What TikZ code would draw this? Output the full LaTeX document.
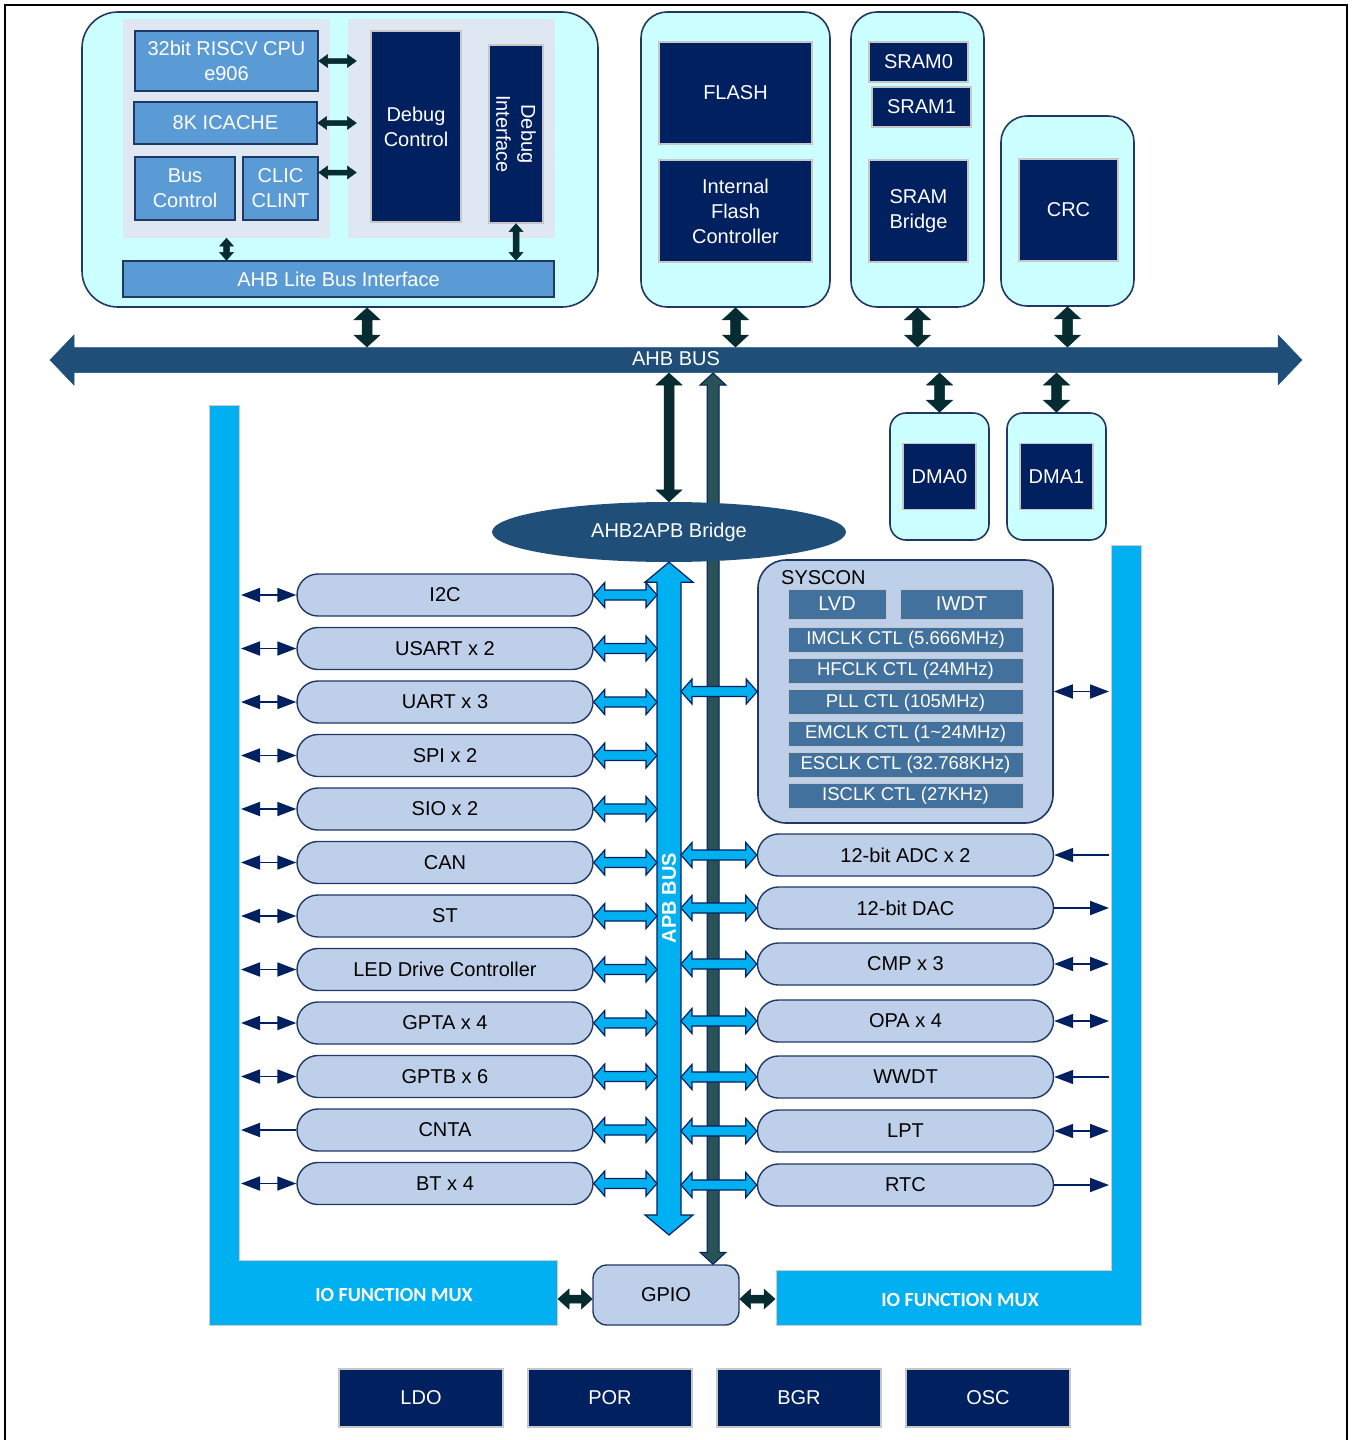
\documentclass[tikz,border=0pt]{standalone}
\usepackage{fontspec}
\setmainfont{Liberation Sans}
\newfontfamily\calibri{Carlito}
\usetikzlibrary{positioning, arrows.meta, calc, shapes.geometric}

\definecolor{navy}{RGB}{0,32,96}
\definecolor{rimblue}{RGB}{31,56,100}
\definecolor{cyanlt}{RGB}{204,255,255}
\definecolor{panelgrey}{RGB}{222,231,242}
\definecolor{cpublue}{RGB}{91,155,213}
\definecolor{busblue}{RGB}{31,78,121}
\definecolor{pillblue}{RGB}{189,207,233}
\definecolor{sysblue}{RGB}{65,113,156}
\definecolor{muxblue}{RGB}{0,176,240}
\definecolor{arrdark}{RGB}{6,44,50}
\definecolor{slate}{RGB}{40,82,86}

% block double arrows: [style]{from}{to}{shaft half width}{head half width}{head length}
\newcommand{\hblock}[6][]{%
  \path[#1] let \p1=#2, \p2=#3 in
    (\x1,\y1) -- (\x1+#6,\y1+#5) -- (\x1+#6,\y1+#4) -- (\x2-#6,\y2+#4)
    -- (\x2-#6,\y2+#5) -- (\x2,\y2) -- (\x2-#6,\y2-#5) -- (\x2-#6,\y2-#4)
    -- (\x1+#6,\y1-#4) -- (\x1+#6,\y1-#5) -- cycle;}
\newcommand{\vblock}[6][]{%
  \path[#1] let \p1=#2, \p2=#3 in
    (\x1,\y1) -- (\x1+#5,\y1-#6) -- (\x1+#4,\y1-#6) -- (\x2+#4,\y2+#6)
    -- (\x2+#5,\y2+#6) -- (\x2,\y2) -- (\x2-#5,\y2+#6) -- (\x2-#4,\y2+#6)
    -- (\x1-#4,\y1-#6) -- (\x1-#5,\y1-#6) -- cycle;}

\begin{document}
\begin{tikzpicture}[x=1pt, y=-1pt, inner sep=0pt,
  font=\fontsize{20}{25}\selectfont,
  modbox/.style={draw=rimblue, line width=1.6pt, fill=cyanlt, rounded corners=26pt},
  panelbox/.style={fill=panelgrey},
  cpubox/.style={draw=rimblue, line width=1.4pt, fill=cpublue, text=white, align=center},
  darkbox/.style={draw=black!22, line width=1.4pt, fill=navy, text=white, align=center},
  pill/.style={draw=rimblue, line width=1.4pt, fill=pillblue, rounded corners=21pt, minimum width=296pt, minimum height=42pt},
  sysbox/.style={draw=black!22, line width=1pt, fill=sysblue, text=white, minimum height=30pt},
  clkrow/.style={sysbox, minimum width=235pt, minimum height=25pt, font=\fontsize{18.5}{22}\selectfont},
  muxbar/.style={fill=muxblue, draw=black!20, line width=1pt},
  muxlabel/.style={text=white, font=\calibri\bfseries\fontsize{20}{24}\selectfont},
  sig/.style={draw=navy, line width=1.8pt, >={Triangle[length=19pt,width=14pt]}},
  darkarr/.style={fill=arrdark, draw=arrdark, line width=0.5pt},
  lbarr/.style={fill=muxblue, draw=navy, line width=1.2pt},
  slatearr/.style={fill=slate, draw=navy, line width=1pt},
  busarr/.style={fill=busblue, draw=busblue, line width=0.5pt}]

\useasboundingbox (0,0) rectangle (1356,1440);
\draw[line width=2.5pt] (5,1440) -- (5,5) -- (1347,5) -- (1347,1440);

% cpu subsystem
\node[modbox, rounded corners=36pt, minimum width=516pt, minimum height=295pt] (cpublk) at (340,159.5) {};
\node[panelbox, minimum width=207pt, minimum height=219pt] (lpanel) at (226.5,128.5) {};
\node[panelbox, minimum width=207pt, minimum height=219pt] (rpanel) at (451.5,128.5) {};
\node[cpubox, minimum width=183pt, minimum height=60pt] (cpu) at (226.5,61) {32bit RISCV CPU\\e906};
\node[cpubox, minimum width=183pt, minimum height=42pt] (icache) at (225.5,123) {8K ICACHE};
\node[cpubox, minimum width=100pt, minimum height=63pt] (busctl) at (185,188.5) {Bus\\Control};
\node[cpubox, minimum width=75pt, minimum height=63pt] (clic) at (280.5,188.5) {CLIC\\CLINT};
\node[darkbox, minimum width=90pt, minimum height=191pt] (dbgctl) at (416,126.5) {Debug\\Control};
\node[darkbox, rotate=-90, minimum width=178pt, minimum height=54pt] (dbgif) at (516,134) {Debug\\Interface};
\node[cpubox, minimum width=431pt, minimum height=36pt] (ahblite) at (338.5,279) {AHB Lite Bus Interface};

\hblock[darkarr]{(cpu.east)}{([xshift=-14pt]dbgctl.west |- cpu.east)}{2.5pt}{6.5pt}{9pt}
\hblock[darkarr]{(icache.east)}{([xshift=-14pt]dbgctl.west |- icache.east)}{2.5pt}{6.5pt}{9pt}
\hblock[darkarr]{([yshift=16pt]clic.east)}{([xshift=-14pt,yshift=16pt]dbgctl.west |- clic.east)}{2.5pt}{6.5pt}{9pt}
\vblock[darkarr]{(lpanel.south)}{(lpanel.south |- ahblite.north)}{3pt}{7pt}{8pt}
% dbgif is turned, its east side is at the bottom
\vblock[darkarr]{(dbgif.east)}{(dbgif.east |- ahblite.north)}{3pt}{7pt}{8pt}

% memories
\node[modbox, minimum width=189pt, minimum height=295pt] (flashblk) at (735.5,159.5) {};
\node[darkbox, minimum width=153pt, minimum height=102pt] (flash) at (735.5,93) {FLASH};
\node[darkbox, minimum width=153pt, minimum height=102pt, below=14.6pt of flash] (ifc) {Internal\\Flash\\Controller};
\node[modbox, minimum width=133pt, minimum height=295pt, right=19.4pt of flashblk] (sramblk) {};
\node[darkbox, minimum width=99pt, minimum height=40pt] (sram0) at (918.5,62) {SRAM0};
\node[darkbox, minimum width=99pt, minimum height=40pt] (sram1) at (921.5,107) {SRAM1};
\node[darkbox, minimum width=99pt, minimum height=102pt] (srambr) at (918.5,211) {SRAM\\Bridge};
\node[modbox, minimum width=133pt, minimum height=190pt] (crcblk) at (1067.5,211) {};
\node[darkbox, minimum width=99pt, minimum height=102pt] (crc) at (1068.5,210) {CRC};

% ahb bus
\coordinate (ahbl) at (50,360);
\coordinate (ahbr) at (1302,360);
\coordinate (bustop) at (0,347);
\coordinate (busbot) at (0,373);
\hblock[busarr]{(ahbl)}{(ahbr)}{12.5pt}{25pt}{24pt}
\node[text=white] (ahblabel) at (676,359) {AHB BUS};

\vblock[darkarr]{([xshift=27pt]cpublk.south)}{([xshift=27pt]cpublk.south |- bustop)}{5pt}{13pt}{12pt}
\vblock[darkarr]{(flashblk.south)}{(flashblk.south |- bustop)}{5pt}{13pt}{12pt}
\vblock[darkarr]{(sramblk.south)}{(sramblk.south |- bustop)}{5pt}{13pt}{12pt}
\vblock[darkarr]{(crcblk.south)}{(crcblk.south |- bustop)}{5pt}{13pt}{12pt}

% dma
\node[modbox, rounded corners=16pt, minimum width=99pt, minimum height=127pt] (dma0blk) at (939.5,476.5) {};
\node[modbox, rounded corners=16pt, minimum width=99pt, minimum height=127pt, right=16.4pt of dma0blk] (dma1blk) {};
\node[darkbox, minimum width=73pt, minimum height=66pt] (dma0) at (dma0blk) {DMA0};
\node[darkbox, minimum width=73pt, minimum height=66pt] (dma1) at (dma1blk) {DMA1};
\vblock[darkarr]{(dma0blk.north |- busbot)}{(dma0blk.north)}{5pt}{13pt}{12pt}
\vblock[darkarr]{(dma1blk.north |- busbot)}{(dma1blk.north)}{5pt}{13pt}{12pt}

% io function mux
\path[muxbar] (209,405) -- (239,405) -- (239,1260) -- (557,1260) -- (557,1325) -- (209,1325) -- cycle;
\node[muxlabel] (lmuxlabel) at (394,1295) {IO FUNCTION MUX};
\path[muxbar] (1111,545) -- (1141,545) -- (1141,1325) -- (776,1325) -- (776,1270) -- (1111,1270) -- cycle;
\node[muxlabel] (rmuxlabel) at (960,1300) {IO FUNCTION MUX};
\coordinate (lmux) at (241,0);
\coordinate (rmux) at (1109,0);
\coordinate (lmuxend) at (558,0);
\coordinate (rmuxend) at (775,0);

% gpio and bridge
\node[draw=rimblue, line width=1.4pt, fill=pillblue, rounded corners=14pt, minimum width=146pt, minimum height=60pt] (gpio) at (666,1295) {GPIO};
\coordinate (slatecol) at (713,0);
\vblock[slatearr]{(slatecol |- busbot)}{(slatecol |- gpio.north)}{6pt}{13pt}{12pt}
\node[ellipse, fill=busblue, minimum width=354pt, minimum height=60pt, text=white] (bridge) at (669,532) {AHB2APB Bridge};
\vblock[darkarr]{(bridge.north |- busbot)}{(bridge.north)}{5pt}{13pt}{12pt}
\hblock[darkarr]{([yshift=-4pt]gpio.west -| lmuxend)}{([yshift=-4pt]gpio.west)}{4pt}{10pt}{11pt}
\hblock[darkarr]{([yshift=-4pt]gpio.east)}{([yshift=-4pt]gpio.east -| rmuxend)}{4pt}{10pt}{11pt}

% apb bus
\coordinate (apbbot) at (669,1235);
\coordinate (apbl) at (657,0);
\coordinate (apbr) at (681,0);
\vblock[lbarr]{(bridge.south)}{(apbbot)}{12pt}{24pt}{20pt}
\node[rotate=90, text=white, font=\bfseries\fontsize{20}{24}\selectfont] (apblabel) at (669,898) {APB BUS};

% left peripherals
\node[pill] (i2c) at (445,595) {I2C};
\node[pill, below=10.1pt of i2c] (usart) {USART x 2};
\node[pill, below=10.1pt of usart] (uart) {UART x 3};
\node[pill, below=10.1pt of uart] (spi) {SPI x 2};
\node[pill, below=10.1pt of spi] (sio) {SIO x 2};
\node[pill, below=10.1pt of sio] (can) {CAN};
\node[pill, below=10.1pt of can] (st) {ST};
\node[pill, below=10.1pt of st] (led) {LED Drive Controller};
\node[pill, below=10.1pt of led] (gpta) {GPTA x 4};
\node[pill, below=10.1pt of gpta] (gptb) {GPTB x 6};
\node[pill, below=10.1pt of gptb] (cnta) {CNTA};
\node[pill, below=10.1pt of cnta] (bt) {BT x 4};

\hblock[lbarr]{(i2c.east)}{(i2c.east -| apbl)}{5pt}{12.5pt}{11pt}
\hblock[lbarr]{(usart.east)}{(usart.east -| apbl)}{5pt}{12.5pt}{11pt}
\hblock[lbarr]{(uart.east)}{(uart.east -| apbl)}{5pt}{12.5pt}{11pt}
\hblock[lbarr]{(spi.east)}{(spi.east -| apbl)}{5pt}{12.5pt}{11pt}
\hblock[lbarr]{(sio.east)}{(sio.east -| apbl)}{5pt}{12.5pt}{11pt}
\hblock[lbarr]{(can.east)}{(can.east -| apbl)}{5pt}{12.5pt}{11pt}
\hblock[lbarr]{(st.east)}{(st.east -| apbl)}{5pt}{12.5pt}{11pt}
\hblock[lbarr]{(led.east)}{(led.east -| apbl)}{5pt}{12.5pt}{11pt}
\hblock[lbarr]{(gpta.east)}{(gpta.east -| apbl)}{5pt}{12.5pt}{11pt}
\hblock[lbarr]{(gptb.east)}{(gptb.east -| apbl)}{5pt}{12.5pt}{11pt}
\hblock[lbarr]{(cnta.east)}{(cnta.east -| apbl)}{5pt}{12.5pt}{11pt}
\hblock[lbarr]{(bt.east)}{(bt.east -| apbl)}{5pt}{12.5pt}{11pt}

\draw[sig,<->] (i2c.west) -- (i2c.west -| lmux);
\draw[sig,<->] (usart.west) -- (usart.west -| lmux);
\draw[sig,<->] (uart.west) -- (uart.west -| lmux);
\draw[sig,<->] (spi.west) -- (spi.west -| lmux);
\draw[sig,<->] (sio.west) -- (sio.west -| lmux);
\draw[sig,<->] (can.west) -- (can.west -| lmux);
\draw[sig,<->] (st.west) -- (st.west -| lmux);
\draw[sig,<->] (led.west) -- (led.west -| lmux);
\draw[sig,<->] (gpta.west) -- (gpta.west -| lmux);
\draw[sig,<->] (gptb.west) -- (gptb.west -| lmux);
\draw[sig,->] (cnta.west) -- (cnta.west -| lmux);
\draw[sig,<->] (bt.west) -- (bt.west -| lmux);

% syscon
\node[draw=rimblue, line width=1.6pt, fill=pillblue, rounded corners=28pt, minimum width=295pt, minimum height=263pt] (syscon) at (905.5,691.5) {};
\node[anchor=west] (syslabel) at (781,578) {SYSCON};
\node[sysbox, minimum width=98pt] (lvd) at (837,604) {LVD};
\node[sysbox, minimum width=123pt, right=13pt of lvd] (iwdt) {IWDT};
\node[clkrow] (imclk) at (905.5,640) {IMCLK CTL (5.666MHz)};
\node[clkrow, below=5.2pt of imclk] (hfclk) {HFCLK CTL (24MHz)};
\node[clkrow, below=5.2pt of hfclk] (pll) {PLL CTL (105MHz)};
\node[clkrow, below=5.2pt of pll] (emclk) {EMCLK CTL (1\textasciitilde24MHz)};
\node[clkrow, below=5.2pt of emclk] (esclk) {ESCLK CTL (32.768KHz)};
\node[clkrow, below=5.2pt of esclk] (isclk) {ISCLK CTL (27KHz)};
\hblock[lbarr]{(apbr |- syscon)}{(syscon.west)}{5pt}{12.5pt}{11pt}
\draw[sig,<->] (syscon.east) -- (syscon.east -| rmux);

% right peripherals
\node[pill] (adc) at (905.5,855) {12-bit ADC x 2};
\node[pill] (dac) at (905.5,908) {12-bit DAC};
\node[pill] (cmp) at (905.5,964) {CMP x 3};
\node[pill] (opa) at (905.5,1021) {OPA x 4};
\node[pill] (wwdt) at (905.5,1077) {WWDT};
\node[pill] (lpt) at (905.5,1131) {LPT};
\node[pill] (rtc) at (905.5,1185) {RTC};

\hblock[lbarr]{(adc.west -| apbr)}{(adc.west)}{5pt}{12.5pt}{11pt}
\hblock[lbarr]{(dac.west -| apbr)}{(dac.west)}{5pt}{12.5pt}{11pt}
\hblock[lbarr]{(cmp.west -| apbr)}{(cmp.west)}{5pt}{12.5pt}{11pt}
\hblock[lbarr]{(opa.west -| apbr)}{(opa.west)}{5pt}{12.5pt}{11pt}
\hblock[lbarr]{(wwdt.west -| apbr)}{(wwdt.west)}{5pt}{12.5pt}{11pt}
\hblock[lbarr]{(lpt.west -| apbr)}{(lpt.west)}{5pt}{12.5pt}{11pt}
\hblock[lbarr]{(rtc.west -| apbr)}{(rtc.west)}{5pt}{12.5pt}{11pt}

\draw[sig,<-] (adc.east) -- (adc.east -| rmux);
\draw[sig,->] (dac.east) -- (dac.east -| rmux);
\draw[sig,<->] (cmp.east) -- (cmp.east -| rmux);
\draw[sig,<->] (opa.east) -- (opa.east -| rmux);
\draw[sig,<-] (wwdt.east) -- (wwdt.east -| rmux);
\draw[sig,<->] (lpt.east) -- (lpt.east -| rmux);
\draw[sig,->] (rtc.east) -- (rtc.east -| rmux);

% analog blocks
\node[darkbox, minimum width=164pt, minimum height=58pt] (ldo) at (421,1398) {LDO};
\node[darkbox, minimum width=164pt, minimum height=58pt, right=23.6pt of ldo] (por) {POR};
\node[darkbox, minimum width=164pt, minimum height=58pt, right=23.6pt of por] (bgr) {BGR};
\node[darkbox, minimum width=164pt, minimum height=58pt, right=23.6pt of bgr] (osc) {OSC};

\end{tikzpicture}
\end{document}
